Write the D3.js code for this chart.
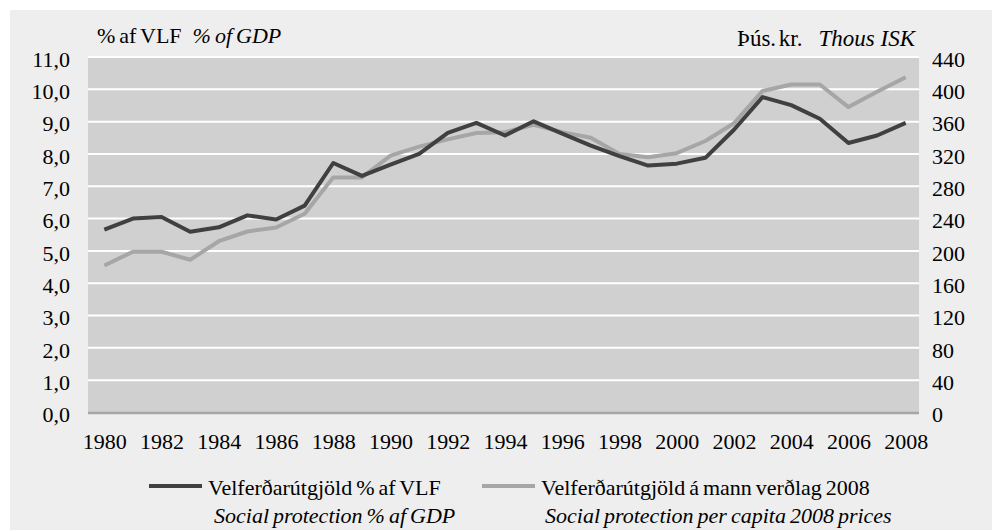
<!DOCTYPE html>
<html>
<head>
<meta charset="utf-8">
<script src="https://cdn.jsdelivr.net/npm/d3@7"></script>
<style>
  body { margin: 0; background: #fff; }
  svg text { font-family: "Times New Roman", Times, "Liberation Serif", "DejaVu Serif", serif; fill: #000; }
</style>
</head>
<body>
<svg id="chart" width="998" height="531"></svg>
<script>
// years on x axis
const years = d3.range(1980, 2009);

// % of GDP (left axis)
const pctGdp = [5.66, 6.0, 6.05, 5.59, 5.73, 6.1, 5.97, 6.4, 7.72, 7.32,
    7.67, 8.0, 8.65, 8.96, 8.57, 9.01, 8.63, 8.26, 7.93, 7.64,
    7.70, 7.88, 8.75, 9.76, 9.51, 9.09, 8.34, 8.57, 8.96];

// thous ISK per capita, 2008 prices (right axis)
const perCapita = [182, 199, 199, 189, 212, 224, 229, 246, 291, 291,
    318, 329, 338, 346, 347, 356, 347, 340, 320, 316,
    321, 336, 358, 398, 406, 406, 378, 397, 415];

const leftTicks = d3.range(0, 12, 1);
const rightTicks = d3.range(0, 480, 40);

const legendItems = [
    { name: 'Velferðarútgjöld % af VLF', en: 'Social protection % af GDP', color: '#404040' },
    { name: 'Velferðarútgjöld á mann verðlag 2008', en: 'Social protection per capita 2008 prices', color: '#a6a6a6' }
];

const FONT = '"Times New Roman", Times, "Liberation Serif", "DejaVu Serif", serif';
const FS = 22;

const svg = d3.select('#chart');
const plot = { left: 88, right: 919, top: 57, bottom: 412.5 };

// outer panel
svg.append('rect')
    .attr('x', 10).attr('y', 10)
    .attr('width', 982).attr('height', 520)
    .attr('fill', '#eeeeee');

svg.append('rect')
    .attr('x', plot.left).attr('y', plot.top)
    .attr('width', plot.right - plot.left).attr('height', plot.bottom - plot.top)
    .attr('fill', '#d0d0d0');

const x = d3.scalePoint()
    .domain(years)
    .range([104.3, 905.7]);

const yL = d3.scaleLinear().domain([0, 11]).range([plot.bottom, plot.top]);
const yR = d3.scaleLinear().domain([0, 440]).range([plot.bottom, plot.top]);

// gridlines
svg.append('g')
    .selectAll('line')
    .data(leftTicks.filter(d => d > 0))
    .join('line')
    .attr('x1', plot.left).attr('x2', plot.right)
    .attr('y1', d => yL(d)).attr('y2', d => yL(d))
    .attr('stroke', '#ffffff')
    .attr('stroke-width', 2);

// bottom axis line
svg.append('line')
    .attr('x1', plot.left).attr('x2', plot.right)
    .attr('y1', plot.bottom + 0.5).attr('y2', plot.bottom + 0.5)
    .attr('stroke', '#a6a6a6')
    .attr('stroke-width', 2.5);

const fmt = d => d.toFixed(1).replace('.', ',');

function styleAxis(g) {
    g.attr('font-family', FONT);
    g.select('.domain').remove();
    g.selectAll('text')
        .attr('font-size', FS)
        .attr('fill', '#000');
}

// left axis
svg.append('g')
    .attr('transform', `translate(${plot.left},0)`)
    .call(d3.axisLeft(yL).tickValues(leftTicks).tickFormat(fmt).tickSize(0).tickPadding(18))
    .call(styleAxis)
    .selectAll('text').attr('dy', '0.42em');

// right axis
svg.append('g')
    .attr('transform', `translate(${plot.right},0)`)
    .call(d3.axisRight(yR).tickValues(rightTicks).tickSize(0).tickPadding(13))
    .call(styleAxis)
    .selectAll('text').attr('dy', '0.42em');

// x axis
svg.append('g')
    .attr('transform', `translate(0,${plot.bottom})`)
    .call(d3.axisBottom(x).tickValues(years.filter(d => d % 2 === 0)).tickSize(0).tickPadding(21))
    .call(styleAxis);

// lines
const lineL = d3.line().x((d, i) => x(years[i])).y(d => yL(d));
const lineR = d3.line().x((d, i) => x(years[i])).y(d => yR(d));

svg.append('path')
    .datum(perCapita)
    .attr('d', lineR)
    .attr('fill', 'none')
    .attr('stroke', legendItems[1].color)
    .attr('stroke-width', 4)
    .attr('stroke-linejoin', 'round');

svg.append('path')
    .datum(pctGdp)
    .attr('d', lineL)
    .attr('fill', 'none')
    .attr('stroke', legendItems[0].color)
    .attr('stroke-width', 4)
    .attr('stroke-linejoin', 'round');

// axis titles
const tL = svg.append('text').attr('x', 97).attr('y', 43).attr('font-size', FS)
    .attr('word-spacing', -1.5);
tL.append('tspan').text('% af VLF');
tL.append('tspan').attr('font-style', 'italic').attr('dx', 11).text('% of GDP');

const tR = svg.append('text').attr('x', 915).attr('y', 46).attr('font-size', 23)
    .attr('text-anchor', 'end');
tR.append('tspan').attr('word-spacing', -3).text('Þús. kr.');
tR.append('tspan').attr('font-style', 'italic').attr('dx', 16).text('Thous ISK');

// legend
const legX = [149, 482];
const lg = svg.append('g')
    .selectAll('g')
    .data(legendItems)
    .join('g')
    .attr('transform', (d, i) => `translate(${legX[i]},486)`);

lg.append('line')
    .attr('x1', 0).attr('x2', 53)
    .attr('stroke', d => d.color)
    .attr('stroke-width', 4);

lg.append('text')
    .attr('x', 59).attr('y', 9)
    .attr('font-size', FS)
    .attr('word-spacing', -1.5)
    .text(d => d.name);

lg.append('text')
    .attr('x', (d, i) => i === 0 ? 65 : 63).attr('y', 37)
    .attr('font-size', FS)
    .attr('word-spacing', -1.5)
    .attr('font-style', 'italic')
    .text(d => d.en);
</script>
</body>
</html>
